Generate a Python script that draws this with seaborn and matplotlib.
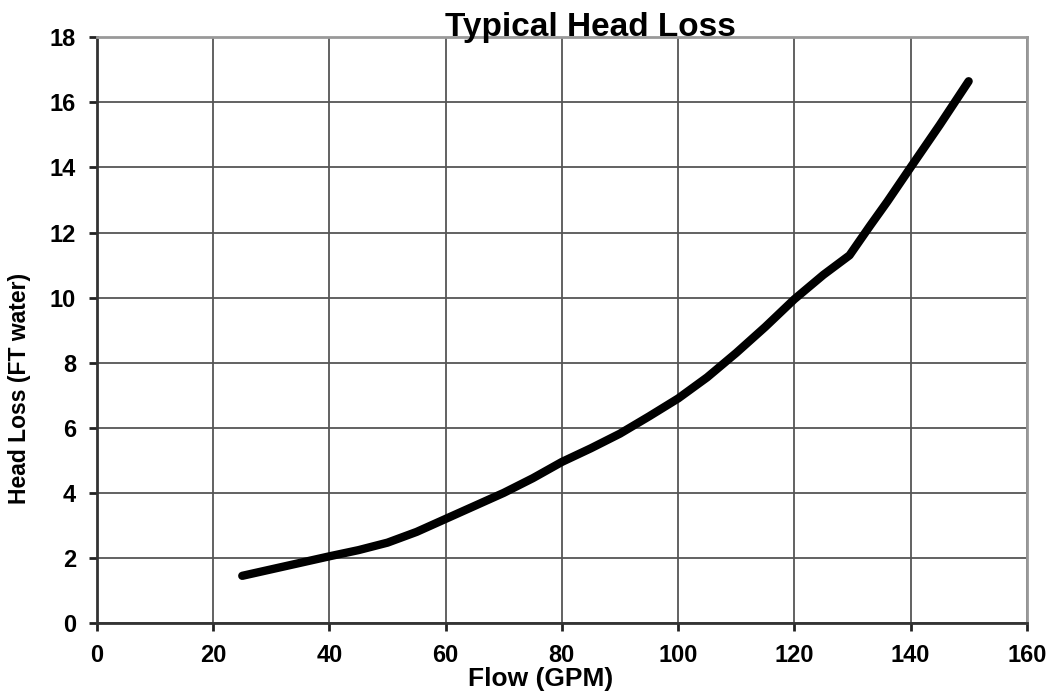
import pandas as pd
import seaborn as sns
import matplotlib.pyplot as plt

# values
flow_gpm = [25, 30, 35, 40, 45, 50, 55, 60, 65, 70, 75, 80, 85, 90, 95, 100,
            105, 110, 115, 120, 125, 128, 129.5, 133, 136, 140, 145, 150]
head_loss_ft = [1.45, 1.65, 1.85, 2.05, 2.24, 2.47, 2.8, 3.2, 3.6, 4.0, 4.45, 4.95,
                5.37, 5.82, 6.35, 6.9, 7.55, 8.3, 9.1, 9.95, 10.7, 11.1, 11.3, 12.2,
                12.95, 14.0, 15.3, 16.65]
x_ticks = [0, 20, 40, 60, 80, 100, 120, 140, 160]
y_ticks = [0, 2, 4, 6, 8, 10, 12, 14, 16, 18]

df = pd.DataFrame({'flow': flow_gpm, 'head': head_loss_ft})

sns.set_style('white')
plt.rcParams['font.family'] = ['Liberation Sans', 'DejaVu Sans']
plt.rcParams['text.color'] = 'black'
plt.rcParams['axes.labelcolor'] = 'black'
plt.rcParams['xtick.color'] = 'black'
plt.rcParams['ytick.color'] = 'black'

fig = plt.figure(figsize=(10.52, 6.91), dpi=100)
ax = fig.add_axes([0.0922, 0.0984, 0.8838, 0.8476])

sns.lineplot(data=df, x='flow', y='head', color='black', linewidth=6,
             solid_capstyle='round', solid_joinstyle='round', ax=ax)

ax.set_xlim(0, 160)
ax.set_ylim(0, 18)
ax.set_xticks(x_ticks)
ax.set_yticks(y_ticks)
ax.grid(True, color='#555555', linewidth=1.3)
ax.set_axisbelow(True)

for side in ['top', 'right']:
    ax.spines[side].set_color('#999999')
    ax.spines[side].set_linewidth(2)
for side in ['left', 'bottom']:
    ax.spines[side].set_color('#333333')
    ax.spines[side].set_linewidth(2)

ax.tick_params(axis='both', direction='out', length=6, width=2, color='#222222',
               labelsize=17, pad=9, left=True, bottom=True)
for lbl in ax.get_xticklabels() + ax.get_yticklabels():
    lbl.set_fontweight('bold')

ax.set_xlabel('Flow (GPM)', fontsize=19, fontweight='bold', labelpad=0)
ax.xaxis.set_label_coords(0.477, -0.075)
ax.set_ylabel('Head Loss (FT water)', fontsize=16.5, fontweight='bold')
ax.yaxis.set_label_coords(-0.071, 0.4)
ax.set_title('Typical Head Loss', fontsize=24, fontweight='bold', pad=1, x=0.531)

plt.savefig('out.png', dpi=100)
